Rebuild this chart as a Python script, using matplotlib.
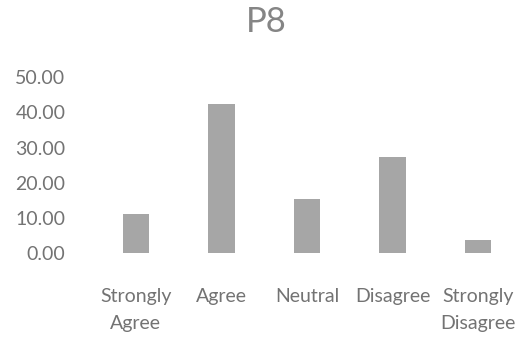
import numpy as np
import matplotlib
matplotlib.use("Agg")
import matplotlib.pyplot as plt

# Data
categories = ["Strongly\nAgree", "Agree", "Neutral", "Disagree", "Strongly\nDisagree"]
values = [11.2, 42.4, 15.4, 27.2, 3.6]
yticks = [0, 10, 20, 30, 40, 50]

plt.rcParams['font.family'] = ['Lato', 'DejaVu Sans']
text_color = '#737373'

fig = plt.figure(figsize=(5.32, 3.38), dpi=100)
ax = fig.add_axes([0.175, 0.2515, 0.804, 0.52])

x = np.arange(len(categories))
ax.bar(x, values, width=0.31, color='#a6a6a6', zorder=2)

ax.set_xlim(-0.5, len(categories) - 0.5)
ax.set_ylim(0, 50)
ax.set_yticks(yticks)
ax.set_yticklabels(["%.2f" % v for v in yticks])
ax.set_xticks(x)
ax.set_xticklabels(categories, linespacing=1.7)

for s in ax.spines.values():
    s.set_visible(False)
ax.tick_params(axis='both', length=0, colors=text_color, labelsize=14)
ax.tick_params(axis='y', pad=20)
ax.tick_params(axis='x', pad=25)

fig.text(0.5, 0.935, "P8", ha='center', va='center', fontsize=25,
         color='#858585')

fig.savefig("out.png", dpi=100)
